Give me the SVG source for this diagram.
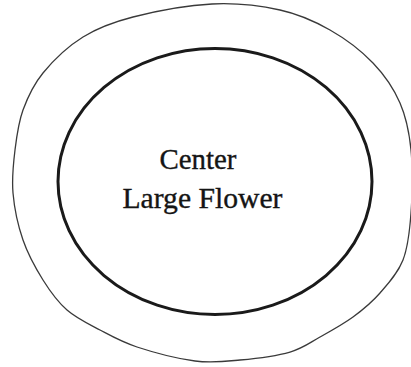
<svg xmlns="http://www.w3.org/2000/svg" width="411" height="367" viewBox="0 0 411 367">
<style>
.lbl{font-family:"Liberation Serif","Times New Roman",serif;font-size:29px;fill:#151515;stroke:#151515;stroke-width:0.35;text-anchor:middle}
</style>
<rect width="411" height="367" fill="#fff"/>
<g id="outer">
<path d="M 212 4 C 236.5 2.8 260.3 5.7 280 10 C 299.7 14.3 314.5 21.2 330 30 C 345.5 38.8 361.3 50.8 373 63 C 384.7 75.2 393.7 88.5 400 103 C 406.3 117.5 409.2 131.7 411 150 C 412.8 168.3 412.3 194.7 411 213 C 409.7 231.3 408.2 246.7 403 260 C 397.8 273.3 388.3 283.5 380 293 C 371.7 302.5 363 309.7 353 317 C 343 324.3 330.5 331.2 320 337 C 309.5 342.8 303.3 348.2 290 352 C 276.7 355.8 255.8 358.5 240 360 C 224.2 361.5 212.2 363.2 195 361 C 177.8 358.8 152.8 352.2 137 347 C 121.2 341.8 111.7 336.2 100 330 C 88.3 323.8 76.5 318.3 67 310 C 57.5 301.7 50.3 291.7 43 280 C 35.7 268.3 28 254.5 23 240 C 18 225.5 14.3 208 13 193 C 11.7 178 13.3 163.8 15 150 C 16.7 136.2 18.3 122.8 23 110 C 27.7 97.2 33 85.2 43 73 C 53 60.8 68 46.3 83 37 C 98 27.7 111.5 22.5 133 17 C 154.5 11.5 187.5 5.2 212 4 Z" fill="none" stroke="#3a3a3a" stroke-width="1.3"/>
</g>
<g id="center">
<ellipse cx="215" cy="181.5" rx="157" ry="133" fill="none" stroke="#1a1a1a" stroke-width="3"/>
<text class="lbl" x="198" y="169" textLength="77" lengthAdjust="spacingAndGlyphs">Center</text>
<text class="lbl" x="202.5" y="208" textLength="160" lengthAdjust="spacingAndGlyphs">Large Flower</text>
</g>
</svg>
